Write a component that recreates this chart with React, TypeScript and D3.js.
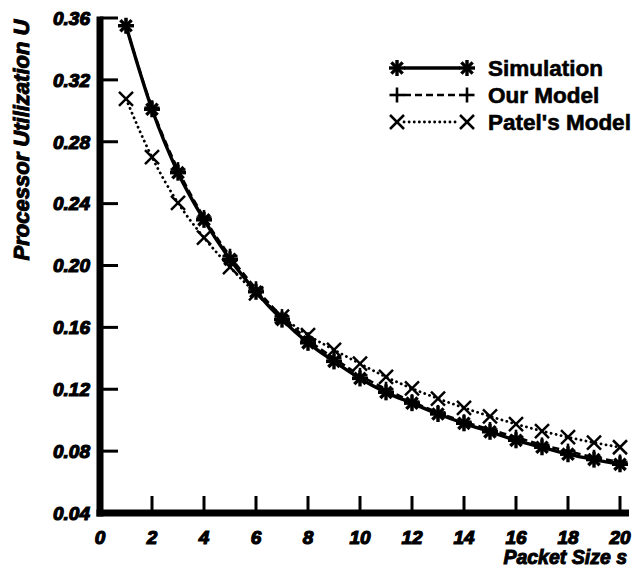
import React from "react";
import * as d3 from "d3";

// Packet sizes s = 1..20
const packetSizes = [1, 2, 3, 4, 5, 6, 7, 8, 9, 10, 11, 12, 13, 14, 15, 16, 17, 18, 19, 20];

// Processor utilization U per packet size
const simulation = [0.355, 0.301, 0.26, 0.2295, 0.204, 0.183, 0.165, 0.15, 0.138, 0.127, 0.118, 0.111, 0.104, 0.098, 0.0925, 0.087, 0.0825, 0.078, 0.0745, 0.0715];
const ourModel = [0.355, 0.302, 0.262, 0.231, 0.206, 0.185, 0.167, 0.152, 0.14, 0.129, 0.12, 0.112, 0.105, 0.099, 0.094, 0.089, 0.084, 0.08, 0.076, 0.073];
const patelModel = [0.3077, 0.27, 0.2405, 0.218, 0.199, 0.182, 0.167, 0.155, 0.1455, 0.1365, 0.128, 0.1205, 0.114, 0.108, 0.1025, 0.0975, 0.093, 0.089, 0.0855, 0.0825];

const xTicks = [0, 2, 4, 6, 8, 10, 12, 14, 16, 18, 20];
const yTicks = [0.04, 0.08, 0.12, 0.16, 0.2, 0.24, 0.28, 0.32, 0.36];

const legendLabels = ["Simulation", "Our Model", "Patel's Model"];

const W = 641;
const H = 573;

const x = d3.scaleLinear().domain([0, 20]).range([100, 620]);
const y = d3.scaleLinear().domain([0.04, 0.36]).range([513, 18]);

const labelFont = "'Liberation Sans', Arial, sans-serif";

type MarkerKind = "star" | "plus" | "cross";

function Marker({ cx, cy, kind }: { cx: number; cy: number; kind: MarkerKind }) {
  if (kind === "star") {
    const r = 8;
    const d = r * Math.SQRT1_2;
    return (
      <g stroke="#000" strokeWidth={3.4} strokeLinecap="butt">
        <line x1={cx - r} y1={cy} x2={cx + r} y2={cy} />
        <line x1={cx} y1={cy - r} x2={cx} y2={cy + r} />
        <line x1={cx - d} y1={cy - d} x2={cx + d} y2={cy + d} />
        <line x1={cx - d} y1={cy + d} x2={cx + d} y2={cy - d} />
      </g>
    );
  }
  if (kind === "plus") {
    const r = 7.5;
    return (
      <g stroke="#000" strokeWidth={2.6}>
        <line x1={cx - r} y1={cy} x2={cx + r} y2={cy} />
        <line x1={cx} y1={cy - r} x2={cx} y2={cy + r} />
      </g>
    );
  }
  const r = 7;
  return (
    <g stroke="#000" strokeWidth={2.5}>
      <line x1={cx - r} y1={cy - r} x2={cx + r} y2={cy + r} />
      <line x1={cx - r} y1={cy + r} x2={cx + r} y2={cy - r} />
    </g>
  );
}

const seriesList: { values: number[]; kind: MarkerKind; dash: string | undefined; width: number; cap: "butt" | "round" }[] = [
  { values: patelModel, kind: "cross", dash: "0.1 5", width: 2.8, cap: "round" },
  { values: ourModel, kind: "plus", dash: "7 4", width: 2.6, cap: "butt" },
  { values: simulation, kind: "star", dash: undefined, width: 3.4, cap: "butt" },
];

export default function App() {
  const line = d3
    .line<number>()
    .x((_, i) => x(packetSizes[i]))
    .y((v) => y(v))
    .curve(d3.curveMonotoneX);

  const legendKinds: MarkerKind[] = ["star", "plus", "cross"];
  const legendStyles = [seriesList[2], seriesList[1], seriesList[0]];

  const axisW = 7;
  const x0 = x(0);
  const yBase = y(0.04);
  const yTop = y(0.36);

  return (
    <svg
      width={W}
      height={H}
      viewBox={`0 0 ${W} ${H}`}
      style={{ position: "absolute", left: 0, top: 0, background: "#fff" }}
    >
      <rect x={0} y={0} width={W} height={H} fill="#fff" />

      {/* series lines */}
      {seriesList.map((s, i) => (
        <path
          key={`l${i}`}
          d={line(s.values) || ""}
          fill="none"
          stroke="#000"
          strokeWidth={s.width}
          strokeDasharray={s.dash}
          strokeLinecap={s.cap}
        />
      ))}
      {/* series markers */}
      {seriesList.map((s, i) => (
        <g key={`m${i}`}>
          {s.values.map((v, j) => (
            <Marker key={j} cx={x(packetSizes[j])} cy={y(v)} kind={s.kind} />
          ))}
        </g>
      ))}

      {/* axes */}
      <rect x={x0 - axisW / 2} y={yTop - 1.5} width={axisW} height={yBase - yTop + 1.5 + axisW / 2} fill="#000" />
      <rect x={x0 - axisW / 2} y={yBase - axisW / 2} width={629 - x0 + axisW / 2} height={axisW} fill="#000" />
      {yTicks.slice(1).map((t) => (
        <rect key={`yt${t}`} x={x0} y={y(t) - 1.5} width={18} height={3} fill="#000" />
      ))}
      {xTicks.slice(1).map((t) => (
        <rect key={`xt${t}`} x={x(t) - 1.5} y={yBase - 17} width={3} height={17} fill="#000" />
      ))}

      {/* tick labels */}
      {yTicks.map((t) => (
        <text
          key={`yl${t}`}
          x={90}
          y={y(t)}
          dy="0.36em"
          textAnchor="end"
          fontFamily={labelFont}
          fontWeight="bold"
          fontStyle="italic"
          fontSize={19}
          stroke="#000"
          strokeWidth={1.2}
        >
          {t.toFixed(2)}
        </text>
      ))}
      {xTicks.map((t) => (
        <text
          key={`xl${t}`}
          x={x(t)}
          y={537}
          dy="0.36em"
          textAnchor="middle"
          fontFamily={labelFont}
          fontWeight="bold"
          fontStyle="italic"
          fontSize={19}
          stroke="#000"
          strokeWidth={1.2}
        >
          {t}
        </text>
      ))}

      {/* axis titles */}
      <text
        transform={`translate(21,140) rotate(-90)`}
        dy="0.36em"
        textAnchor="middle"
        fontFamily={labelFont}
        fontWeight="bold"
        fontStyle="italic"
        fontSize={22}
        stroke="#000"
        strokeWidth={1}
      >
        Processor Utilization U
      </text>
      <text
        x={627}
        y={557}
        dy="0.36em"
        textAnchor="end"
        fontFamily={labelFont}
        fontWeight="bold"
        fontStyle="italic"
        fontSize={19.5}
        stroke="#000"
        strokeWidth={1}
      >
        Packet Size s
      </text>

      {/* legend */}
      {legendLabels.map((label, i) => {
        const ly = 68 + i * 27;
        const st = legendStyles[i];
        return (
          <g key={`lg${i}`}>
            <line
              x1={404}
              y1={ly}
              x2={460}
              y2={ly}
              stroke="#000"
              strokeWidth={st.width}
              strokeDasharray={st.dash}
              strokeLinecap={st.cap}
            />
            <Marker cx={397} cy={ly} kind={legendKinds[i]} />
            <Marker cx={467} cy={ly} kind={legendKinds[i]} />
            <text
              x={488}
              y={ly}
              dy="0.36em"
              fontFamily={labelFont}
              fontWeight="bold"
              fontSize={22.5}
              stroke="#000"
              strokeWidth={0.6}
            >
              {label}
            </text>
          </g>
        );
      })}
    </svg>
  );
}
